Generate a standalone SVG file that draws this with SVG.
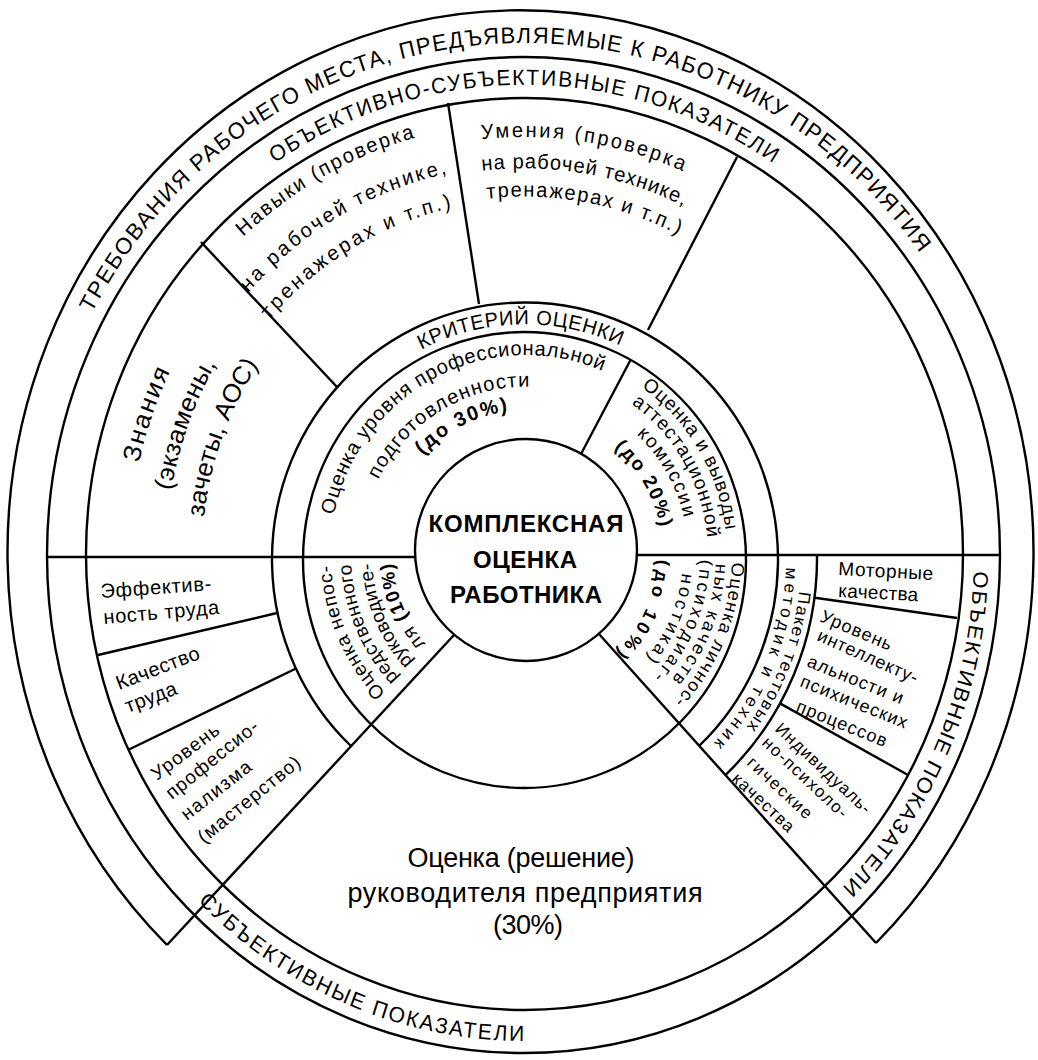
<svg xmlns="http://www.w3.org/2000/svg" width="1038" height="1060" viewBox="0 0 1038 1060">
<style>
.ln{fill:none;stroke:#000;stroke-width:2.4}
text{font-family:"Liberation Sans",Arial,sans-serif;fill:#000}
.m{text-anchor:middle}
.b{font-weight:bold}
</style>
<defs>
<path id="o490" d="M0,490A490,490 0 1 1 0,-490A490,490 0 1 1 0,490"/>
<path id="o450" d="M0,450A450,450 0 1 1 0,-450A450,450 0 1 1 0,450"/>
<path id="o465c" d="M0,-465A465,465 0 1 0 0,465A465,465 0 1 0 0,-465"/>
<path id="o414" d="M0,414A414,414 0 1 1 0,-414A414,414 0 1 1 0,414"/>
<path id="o373" d="M0,373A373,373 0 1 1 0,-373A373,373 0 1 1 0,373"/>
<path id="o340" d="M0,340A340,340 0 1 1 0,-340A340,340 0 1 1 0,340"/>
<path id="o400" d="M0,400A400,400 0 1 1 0,-400A400,400 0 1 1 0,400"/>
<path id="o370" d="M0,370A370,370 0 1 1 0,-370A370,370 0 1 1 0,370"/>
<path id="o343" d="M0,343A343,343 0 1 1 0,-343A343,343 0 1 1 0,343"/>
<path id="o395" d="M0,395A395,395 0 1 1 0,-395A395,395 0 1 1 0,395"/>
<path id="o358" d="M0,358A358,358 0 1 1 0,-358A358,358 0 1 1 0,358"/>
<path id="o322" d="M0,322A322,322 0 1 1 0,-322A322,322 0 1 1 0,322"/>
<path id="k229" d="M0,229A229,229 0 1 1 0,-229A229,229 0 1 1 0,229"/>
<path id="p276" d="M0,276A276,276 0 1 1 0,-276A276,276 0 1 1 0,276"/>
<path id="p261" d="M0,261A261,261 0 1 1 0,-261A261,261 0 1 1 0,261"/>
<path id="i196" d="M0,196A196,196 0 1 1 0,-196A196,196 0 1 1 0,196"/>
<path id="i165" d="M0,165A165,165 0 1 1 0,-165A165,165 0 1 1 0,165"/>
<path id="i142" d="M0,142A142,142 0 1 1 0,-142A142,142 0 1 1 0,142"/>
<path id="i201" d="M0,201A201,201 0 1 1 0,-201A201,201 0 1 1 0,201"/>
<path id="i182" d="M0,182A182,182 0 1 1 0,-182A182,182 0 1 1 0,182"/>
<path id="i162" d="M0,162A162,162 0 1 1 0,-162A162,162 0 1 1 0,162"/>
<path id="i137" d="M0,137A137,137 0 1 1 0,-137A137,137 0 1 1 0,137"/>
<path id="i195" d="M0,195A195,195 0 1 1 0,-195A195,195 0 1 1 0,195"/>
<path id="i175" d="M0,175A175,175 0 1 1 0,-175A175,175 0 1 1 0,175"/>
<path id="i154" d="M0,154A154,154 0 1 1 0,-154A154,154 0 1 1 0,154"/>
<path id="i133" d="M0,133A133,133 0 1 1 0,-133A133,133 0 1 1 0,133"/>
<path id="i206" d="M0,206A206,206 0 1 1 0,-206A206,206 0 1 1 0,206"/>
<path id="i190" d="M0,190A190,190 0 1 1 0,-190A190,190 0 1 1 0,190"/>
<path id="i174" d="M0,174A174,174 0 1 1 0,-174A174,174 0 1 1 0,174"/>
<path id="i157" d="M0,157A157,157 0 1 1 0,-157A157,157 0 1 1 0,157"/>
<path id="i131" d="M0,131A131,131 0 1 1 0,-131A131,131 0 1 1 0,131"/>
</defs>
<rect width="1038" height="1060" fill="#fff"/>

<g id="rings">
<circle class="ln" cx="526" cy="550" r="111"/>
<ellipse class="ln" cx="524.5" cy="560" rx="221.5" ry="228"/>
<path class="ln" d="M351,746A253,257 0 1 1 699,746"/>
<path class="ln" d="M817,555A292,298 0 0 1 725.5,775"/>
<ellipse class="ln" cx="524.5" cy="554" rx="438.5" ry="456"/>
<ellipse class="ln" cx="523.5" cy="555" rx="476.5" ry="498"/>
<path class="ln" d="M167,945A513,542 0 1 1 876,943"/>
</g>

<g id="connectors">
<path class="ln" d="M415,557H47"/>
<path class="ln" d="M637,555H1000"/>
<path class="ln" d="M454,635L167,945"/>
<path class="ln" d="M599,634L876,943"/>
<path class="ln" d="M201,242L337,387"/>
<path class="ln" d="M448,103L479,304"/>
<path class="ln" d="M737,157L648,330"/>
<path class="ln" d="M630.5,360L581,454"/>
<path class="ln" d="M98,655L277,613"/>
<path class="ln" d="M128,750L296,668.5"/>
<path class="ln" d="M815,597.7L957,618"/>
<path class="ln" d="M780.5,703.6L908,775"/>
</g>

<g id="band-requirements" transform="translate(524,555) scale(1,1.045)">
<text class="m" font-size="22"><textPath href="#o490" startOffset="48.9%" textLength="990" lengthAdjust="spacing">ТРЕБОВАНИЯ РАБОЧЕГО МЕСТА, ПРЕДЪЯВЛЯЕМЫЕ К РАБОТНИКУ ПРЕДПРИЯТИЯ</textPath></text>
</g>
<g id="band-objective-subjective" transform="translate(524,555) scale(1,1.045)">
<text class="m" font-size="21"><textPath href="#o450" startOffset="50%" textLength="528" lengthAdjust="spacing">ОБЪЕКТИВНО-СУБЪЕКТИВНЫЕ ПОКАЗАТЕЛИ</textPath></text>
</g>
<g id="band-objective" transform="translate(524,555) scale(1,1.045)">
<text class="m" font-size="21"><textPath href="#o450" startOffset="81.53%" textLength="338" lengthAdjust="spacing">ОБЪЕКТИВНЫЕ ПОКАЗАТЕЛИ</textPath></text>
</g>
<g id="band-subjective" transform="translate(524,555) scale(1,1.045)">
<text class="m" font-size="21"><textPath href="#o465c" startOffset="43.82%" textLength="361" lengthAdjust="spacing">СУБЪЕКТИВНЫЕ ПОКАЗАТЕЛИ</textPath></text>
</g>

<g id="cell-skills" transform="translate(524,555) scale(1,1.045)" font-size="20">
<text class="m"><textPath href="#o414" startOffset="41.94%" textLength="198" lengthAdjust="spacing">Навыки (проверка</textPath></text>
<text class="m"><textPath href="#o373" startOffset="41.71%" textLength="233" lengthAdjust="spacing">на рабочей технике,</textPath></text>
<text class="m"><textPath href="#o340" startOffset="41.54%" textLength="215" lengthAdjust="spacing">тренажерах и т.п.)</textPath></text>
</g>
<g id="cell-abilities" transform="translate(524,555) scale(1,1.045)" font-size="20">
<text class="m"><textPath href="#o400" startOffset="52.40%" textLength="206" lengthAdjust="spacing">Умения (проверка</textPath></text>
<text class="m"><textPath href="#o370" startOffset="52.64%" textLength="207" lengthAdjust="spacing">на рабочей технике,</textPath></text>
<text class="m"><textPath href="#o343" startOffset="52.85%" textLength="197" lengthAdjust="spacing">тренажерах и т.п.)</textPath></text>
</g>
<g id="cell-knowledge" transform="translate(524,555) scale(1,1.045)" font-size="25">
<text class="m"><textPath href="#o395" startOffset="30.46%" textLength="93" lengthAdjust="spacing">Знания</textPath></text>
<text class="m"><textPath href="#o358" startOffset="30.64%" textLength="130" lengthAdjust="spacing">(экзамены,</textPath></text>
<text class="m"><textPath href="#o322" startOffset="30.67%" textLength="157" lengthAdjust="spacing">зачеты, АОС)</textPath></text>
</g>

<g id="cell-efficiency" font-size="20">
<text transform="translate(101,598) rotate(-4)" textLength="111" lengthAdjust="spacing">Эффектив-</text>
<text transform="translate(104,624) rotate(-5)" textLength="116" lengthAdjust="spacing">ность труда</text>
</g>
<g id="cell-quality" font-size="20">
<text transform="translate(119,690) rotate(-21)" textLength="88" lengthAdjust="spacing">Качество</text>
<text transform="translate(128,713) rotate(-21)" textLength="54" lengthAdjust="spacing">труда</text>
</g>
<g id="cell-professionalism" font-size="19">
<text transform="translate(157,781) rotate(-37)" textLength="80" lengthAdjust="spacing">Уровень</text>
<text transform="translate(172,800) rotate(-39)" textLength="113" lengthAdjust="spacing">профессио-</text>
<text transform="translate(187,821) rotate(-38)" textLength="84" lengthAdjust="spacing">нализма</text>
<text transform="translate(204,844) rotate(-39)" textLength="126" lengthAdjust="spacing">(мастерство)</text>
</g>

<g id="cell-motor" font-size="19">
<text transform="translate(838,575) rotate(3)" textLength="95" lengthAdjust="spacing">Моторные</text>
<text transform="translate(838,597) rotate(3)" textLength="80" lengthAdjust="spacing">качества</text>
</g>
<g id="cell-intellect" font-size="18">
<text transform="translate(819,621) rotate(23)" textLength="76" lengthAdjust="spacing">Уровень</text>
<text transform="translate(816,640) rotate(24)" textLength="108" lengthAdjust="spacing">интеллекту-</text>
<text transform="translate(806,666) rotate(22)" textLength="102" lengthAdjust="spacing">альности и</text>
<text transform="translate(799,686) rotate(22)" textLength="114" lengthAdjust="spacing">психических</text>
<text transform="translate(795,711) rotate(22)" textLength="96" lengthAdjust="spacing">процессов</text>
</g>
<g id="cell-individual" font-size="17">
<text transform="translate(774,730) rotate(43)" textLength="124" lengthAdjust="spacing">Индивидуаль-</text>
<text transform="translate(761,744) rotate(43)" textLength="110" lengthAdjust="spacing">но-психоло-</text>
<text transform="translate(746,764) rotate(43)" textLength="82" lengthAdjust="spacing">гические</text>
<text transform="translate(731,780) rotate(43)" textLength="78" lengthAdjust="spacing">качества</text>
</g>

<g id="band-tests" transform="translate(525,559) scale(1,1.02)" font-size="17">
<text class="m"><textPath href="#p276" startOffset="81.0%" textLength="145" lengthAdjust="spacing">Пакет тестовых</textPath></text>
<text class="m"><textPath href="#p261" startOffset="81.32%" textLength="191" lengthAdjust="spacing">методик и техник</textPath></text>
</g>

<g id="band-criteria" transform="translate(525,559) scale(1,1.025)">
<text class="m" font-size="20"><textPath href="#k229" startOffset="49.67%" textLength="206" lengthAdjust="spacing">КРИТЕРИЙ ОЦЕНКИ</textPath></text>
</g>

<g id="sector-professional-level" transform="translate(526,555) scale(1,1.02)" font-size="20">
<text class="m"><textPath href="#i196" startOffset="42.29%" textLength="347" lengthAdjust="spacing">Оценка уровня профессиональной</textPath></text>
<text class="m"><textPath href="#i165" startOffset="41.35%" textLength="186" lengthAdjust="spacing">подготовленности</textPath></text>
<text class="m b"><textPath href="#i142" startOffset="42.5%" textLength="97" lengthAdjust="spacing">(до 30%)</textPath></text>
</g>
<g id="sector-commission" transform="translate(526,555) scale(1,1.02)" font-size="19">
<text class="m"><textPath href="#i201" startOffset="66.39%" textLength="168" lengthAdjust="spacing">Оценка и выводы</textPath></text>
<text class="m"><textPath href="#i182" startOffset="66.67%" textLength="156" lengthAdjust="spacing">аттестационной</textPath></text>
<text class="m"><textPath href="#i162" startOffset="66.67%" textLength="96" lengthAdjust="spacing">комиссии</textPath></text>
<text class="m b"><textPath href="#i137" startOffset="66.46%" textLength="92" lengthAdjust="spacing">(до 20%)</textPath></text>
</g>
<g id="sector-supervisor" transform="translate(526,555) scale(1,1.02)" font-size="19">
<text class="m"><textPath href="#i195" startOffset="18.47%" textLength="139" lengthAdjust="spacing">Оценка непос-</textPath></text>
<text class="m"><textPath href="#i175" startOffset="18.54%" textLength="124" lengthAdjust="spacing">редственного</textPath></text>
<text class="m"><textPath href="#i154" startOffset="18.61%" textLength="107" lengthAdjust="spacing">руководите-</textPath></text>
<text class="m"><textPath href="#i133" startOffset="18.82%" textLength="87" lengthAdjust="spacing">ля <tspan class="b">(10%)</tspan></textPath></text>
</g>
<g id="sector-personal" transform="translate(526,555) scale(1,1.02)" font-size="18">
<text class="m"><textPath href="#i206" startOffset="81.39%" textLength="151" lengthAdjust="spacing">Оценка личнос-</textPath></text>
<text class="m"><textPath href="#i190" startOffset="80.90%" textLength="124" lengthAdjust="spacing">ных качеств</textPath></text>
<text class="m"><textPath href="#i174" startOffset="81.18%" textLength="126" lengthAdjust="spacing">(психодиаг-</textPath></text>
<text class="m"><textPath href="#i157" startOffset="81.46%" textLength="92" lengthAdjust="spacing">ностика)</textPath></text>
<text class="m b"><textPath href="#i131" startOffset="81.74%" textLength="102" lengthAdjust="spacing">(до 10%)</textPath></text>
</g>

<g id="sector-director" font-size="27">
<text class="m" x="521" y="867" textLength="227" lengthAdjust="spacing">Оценка (решение)</text>
<text class="m" x="525" y="902" textLength="355" lengthAdjust="spacing">руководителя предприятия</text>
<text class="m" x="528" y="934" textLength="70" lengthAdjust="spacing">(30%)</text>
</g>

<g id="center" font-size="24" font-weight="bold">
<text class="m" x="526" y="532" textLength="195" lengthAdjust="spacing">КОМПЛЕКСНАЯ</text>
<text class="m" x="525" y="568" textLength="104" lengthAdjust="spacing">ОЦЕНКА</text>
<text class="m" x="526" y="603" textLength="152" lengthAdjust="spacing">РАБОТНИКА</text>
</g>
</svg>
